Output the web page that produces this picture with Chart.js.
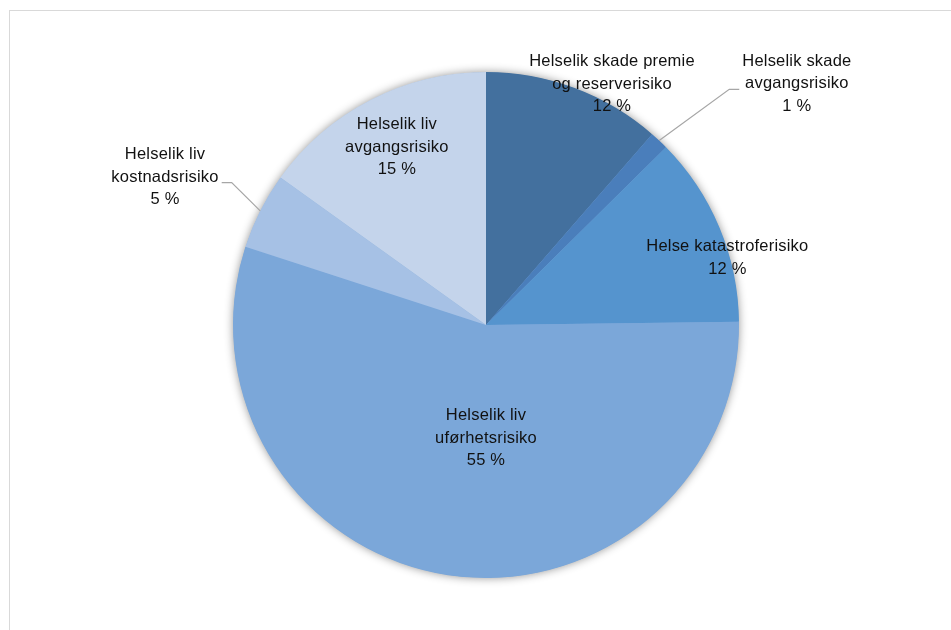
<!DOCTYPE html>
<html>
<head>
<meta charset="utf-8">
<script src="https://cdn.jsdelivr.net/npm/chart.js@4.4.1/dist/chart.umd.min.js"></script>
<style>
  html, body { margin: 0; padding: 0; background: #ffffff; }
  #wrap { position: relative; width: 951px; height: 630px; }
  #frame { position: absolute; left: 9px; top: 10px; width: 960px; height: 640px; border-left: 1px solid #d9d9d9; border-top: 1px solid #d9d9d9; box-sizing: border-box; }
  canvas { position: absolute; left: 0; top: 0; }
</style>
</head>
<body>
<div id="wrap">
  <div id="frame"></div>
  <canvas id="c" width="951" height="630"></canvas>
</div>
<script>
// ---- data ----
const categories = [
  ["Helselik skade premie", "og reserverisiko"],
  ["Helselik skade", "avgangsrisiko"],
  ["Helse katastroferisiko"],
  ["Helselik liv", "uførhetsrisiko"],
  ["Helselik liv", "kostnadsrisiko"],
  ["Helselik liv", "avgangsrisiko"]
];
const values = [11.4, 1.2, 12.2, 55.2, 4.9, 15.1];
const percentLabels = ["12 %", "1 %", "12 %", "55 %", "5 %", "15 %"];

// ---- styles ----
const colors = ["#43709E", "#4A7EBB", "#5594CE", "#7BA7D9", "#A6C1E5", "#C4D4EB"];
// label placement: polar (degrees clockwise from top, fraction of radius), leader side
const labelPlacement = [
  { ang: 27.6, r: 1.075, leader: false },
  { ang: 52.2, r: 1.555, leader: "left" },
  { ang: 74.5, r: 0.99, leader: false },
  { ang: 180, r: 0.447, leader: false },
  { ang: 294.75, r: 1.397, leader: "right" },
  { ang: 333.4, r: 0.787, leader: false }
];
const FONT = '16.5px "Liberation Sans", Arial, sans-serif';
const LINE_H = 22.5;

const shadowPlugin = {
  id: 'pieShadow',
  beforeDatasetsDraw(chart) {
    const arc = chart.getDatasetMeta(0).data[0];
    if (!arc) return;
    const ctx = chart.ctx;
    ctx.save();
    ctx.shadowColor = 'rgba(0,0,0,0.45)';
    ctx.shadowBlur = 10;
    ctx.shadowOffsetX = 0;
    ctx.shadowOffsetY = 0;
    ctx.beginPath();
    ctx.arc(arc.x, arc.y, arc.outerRadius - 0.5, 0, Math.PI * 2);
    ctx.fillStyle = colors[3];
    ctx.fill();
    ctx.restore();
  }
};

const labelPlugin = {
  id: 'pieLabels',
  afterDatasetsDraw(chart) {
    const meta = chart.getDatasetMeta(0);
    const ctx = chart.ctx;
    ctx.save();
    ctx.font = FONT;
    try { ctx.letterSpacing = '0.2px'; } catch (e) {}
    ctx.fillStyle = '#111111';
    ctx.textAlign = 'center';
    ctx.textBaseline = 'middle';
    meta.data.forEach((arc, i) => {
      const p = labelPlacement[i];
      const R = arc.outerRadius;
      const a = p.ang * Math.PI / 180;
      const cx = arc.x + Math.sin(a) * R * p.r;
      const cy = arc.y - Math.cos(a) * R * p.r;
      const lines = categories[i].concat([percentLabels[i]]);
      const n = lines.length;
      let maxW = 0;
      lines.forEach((t, k) => {
        const y = cy + (k - (n - 1) / 2) * LINE_H;
        ctx.fillText(t, cx, y);
        maxW = Math.max(maxW, ctx.measureText(t).width);
      });
      if (p.leader) {
        const mid = (arc.startAngle + arc.endAngle) / 2;
        const sx = arc.x + Math.cos(mid) * R;
        const sy = arc.y + Math.sin(mid) * R;
        const ey = cy + 5.5;
        let ex, elx;
        if (p.leader === 'left') { ex = cx - maxW / 2 - 3; elx = ex - 10; }
        else { ex = cx + maxW / 2 + 3; elx = ex + 10; }
        ctx.beginPath();
        ctx.strokeStyle = '#a6a6a6';
        ctx.lineWidth = 1.2;
        ctx.moveTo(sx, sy);
        ctx.lineTo(elx, ey);
        ctx.lineTo(ex, ey);
        ctx.stroke();
      }
    });
    ctx.restore();
  }
};

new Chart(document.getElementById('c'), {
  type: 'pie',
  data: {
    labels: categories.map(c => c.join(' ')),
    datasets: [{
      data: values,
      backgroundColor: colors,
      borderWidth: 0,
      hoverOffset: 0
    }]
  },
  options: {
    responsive: false,
    animation: false,
    devicePixelRatio: 1,
    layout: { padding: { top: 72, bottom: 52, left: 21, right: 0 } },
    plugins: {
      legend: { display: false },
      tooltip: { enabled: false },
      title: { display: false }
    }
  },
  plugins: [shadowPlugin, labelPlugin]
});
</script>
</body>
</html>
